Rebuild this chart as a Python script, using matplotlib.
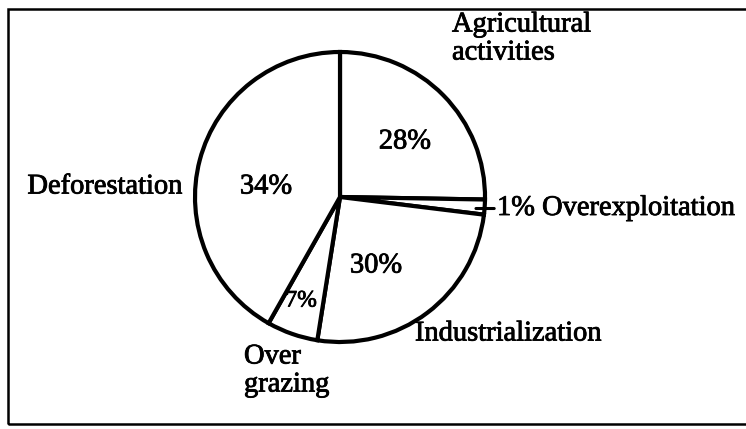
"""
plot.py — pie chart of causes of biodiversity loss (scanned textbook figure).
"""

import numpy as np
import matplotlib.pyplot as plt
import matplotlib.patheffects as pe
from matplotlib.patches import Rectangle

# ---------------------------------------------------------------------------
# Data (clockwise from 12 o'clock)
# ---------------------------------------------------------------------------
causes = ["Agricultural activities", "Overexploitation", "Industrialization",
          "Over grazing", "Deforestation"]
pct_labels = ["28%", "1%", "30%", "7%", "34%"]
# wedge angles as actually drawn in the figure (degrees)
wedge_deg = [91, 6, 92, 20.5, 150.5]

W, H = 746, 429
plt.rcParams['font.family'] = ['Liberation Serif', 'DejaVu Serif']

fig = plt.figure(figsize=(W / 100, H / 100), dpi=100)
ax = fig.add_axes([0, 0, 1, 1])

cx, cy, r = 340, H - 197, 145
wedges, _ = ax.pie(wedge_deg, startangle=90, counterclock=False,
                   center=(cx, cy), radius=r,
                   colors=["white"] * len(wedge_deg),
                   wedgeprops=dict(edgecolor="black", linewidth=3.0))
ax.set_xlim(0, W)
ax.set_ylim(0, H)
ax.set_aspect("auto")
ax.axis("off")

fs = 20.5
# scanned print looks heavier than regular type
ink = [pe.withStroke(linewidth=0.6, foreground="black")]

def px(x, y):
    return x, H - y

def label(x, y, s, ha="center", size=fs):
    ax.text(*px(x, y), s, fontsize=size, ha=ha, va="center", path_effects=ink)

# percent labels inside wedges
label(405, 142, pct_labels[0])
label(266, 187, pct_labels[4])
label(376, 266, pct_labels[2])
label(301, 301, pct_labels[3], size=17)

# outer category labels
label(452, 25, "Agricultural", ha="left")
label(452, 53, "activities", ha="left")
label(105, 187, causes[4])
label(508, 334, causes[2])
label(244, 357, "Over", ha="left")
label(244, 385, "grazing", ha="left")

# leader for the tiny overexploitation slice
w = wedges[1]
mid = np.deg2rad((w.theta1 + w.theta2) / 2)
tip = (cx + 0.94 * r * np.cos(mid), cy + 0.94 * r * np.sin(mid) - 2)
ax.annotate(f"{pct_labels[1]} {causes[1]}", xy=tip, xytext=(497, tip[1]),
            fontsize=fs, ha="left", va="center", path_effects=ink,
            arrowprops=dict(arrowstyle="-", color="black", lw=2.2,
                            shrinkA=0, shrinkB=0))

# frame (open on the right, as in the scan)
fig.add_artist(Rectangle((8 / W, 5 / H), 1.0, (H - 14) / H,
                         transform=fig.transFigure, fill=False,
                         edgecolor="black", linewidth=1.8, clip_on=False))

fig.savefig("out.png", dpi=100)
